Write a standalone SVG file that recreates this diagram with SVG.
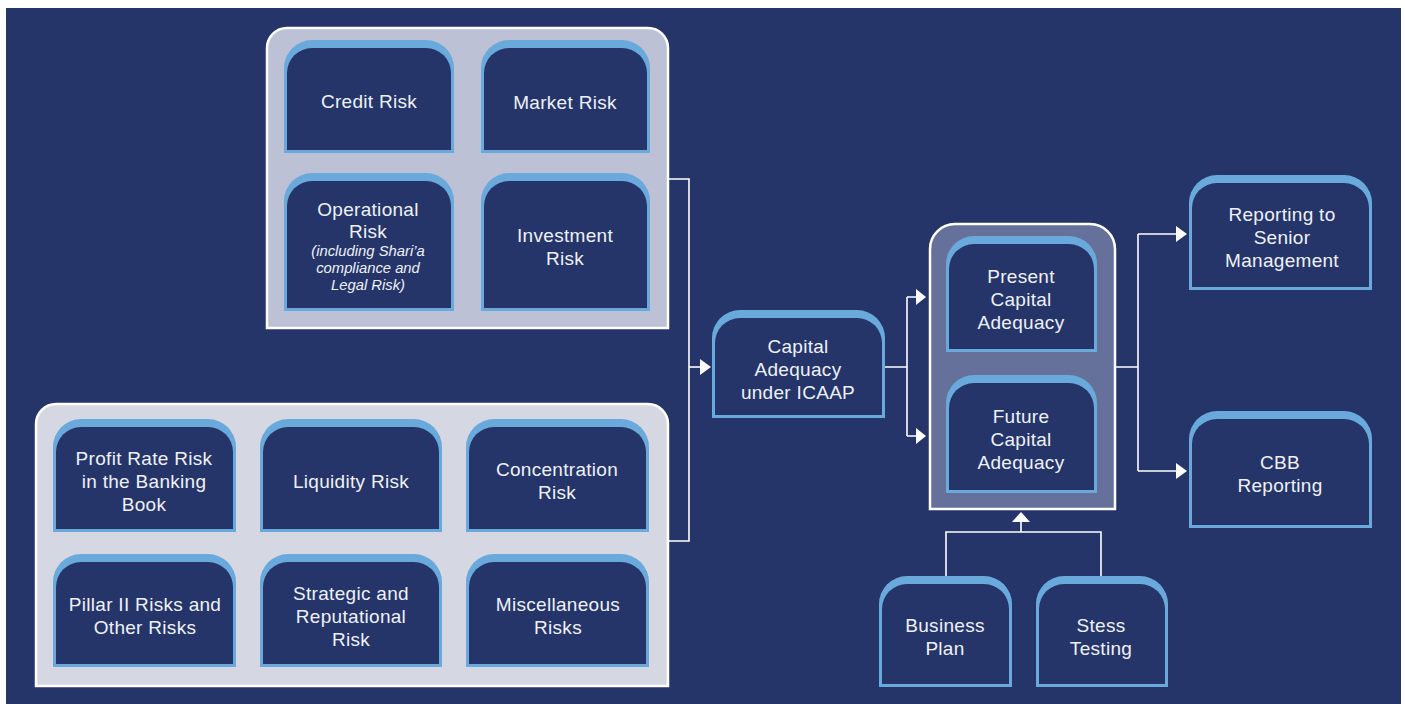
<svg xmlns="http://www.w3.org/2000/svg" width="1405" height="704" viewBox="0 0 1405 704">
<style>
.bg{fill:#253569}
.po{fill:#bcc1d5;stroke:#ffffff;stroke-width:2.5}
.pb{fill:#d5d8e2;stroke:#ffffff;stroke-width:2.5}
.pm{fill:#65719a;stroke:#ffffff;stroke-width:2.5}
.ob{fill:#6aa9dc}
.ib{fill:#253569}
.t{font-family:"Liberation Sans",Arial,Helvetica,sans-serif;font-size:19px;fill:#eef1f7;text-anchor:middle;letter-spacing:0.3px}
.ti{font-family:"Liberation Sans",Arial,Helvetica,sans-serif;font-size:14.8px;font-style:italic;fill:#eef1f7;text-anchor:middle}
.c{fill:none;stroke:#ffffff;stroke-width:1.6}
.ah{fill:#ffffff}
</style>
<rect class="bg" x="6" y="8" width="1395" height="696"/>
<g id="panel-top"><path class="po" d="M267 328 V48 A20 20 0 0 1 287 28 H648 A20 20 0 0 1 668 48 V328 Z"/></g>
<g id="panel-bottom"><path class="pb" d="M36 686 V424 A20 20 0 0 1 56 404 H648 A20 20 0 0 1 668 424 V686 Z"/></g>
<g id="panel-middle"><path class="pm" d="M930 509 V249 A25 25 0 0 1 955 224 H1090 A25 25 0 0 1 1115 249 V509 Z"/></g>
<g id="connectors">
<path class="c" d="M668 179 H689 V541 H668"/>
<path class="c" d="M689 367 H701"/>
<polygon class="ah" points="700,359 711,367 700,375"/>
<path class="c" d="M885 367 H907 M907 297 V436 M907 297 H917 M907 436 H917"/>
<polygon class="ah" points="916,289 926,297 916,305"/>
<polygon class="ah" points="916,428 926,436 916,444"/>
<path class="c" d="M1115 367 H1138 M1138 234 V471 M1138 234 H1177 M1138 471 H1177"/>
<polygon class="ah" points="1176,226 1187,234 1176,242"/>
<polygon class="ah" points="1176,463 1187,471 1176,479"/>
<path class="c" d="M946 576 V532 H1101 V576 M1021 532 V521"/>
<polygon class="ah" points="1012,522 1021,512 1030,522"/>
</g>
<g id="credit-risk"><path class="ob" d="M284 153 V68 A28 28 0 0 1 312 40 H426 A28 28 0 0 1 454 68 V153 Z"/><path class="ib" d="M287 150 V73 A25 25 0 0 1 312 48 H426 A25 25 0 0 1 451 73 V150 Z"/><text class="t" x="369" y="108">Credit Risk</text></g>
<g id="market-risk"><path class="ob" d="M481 153 V68 A28 28 0 0 1 509 40 H622 A28 28 0 0 1 650 68 V153 Z"/><path class="ib" d="M484 150 V73 A25 25 0 0 1 509 48 H622 A25 25 0 0 1 647 73 V150 Z"/><text class="t" x="565" y="109">Market Risk</text></g>
<g id="operational-risk"><path class="ob" d="M284 311 V201 A28 28 0 0 1 312 173 H426 A28 28 0 0 1 454 201 V311 Z"/><path class="ib" d="M287 308 V206 A25 25 0 0 1 312 181 H426 A25 25 0 0 1 451 206 V308 Z"/><text class="t" x="368" y="216">Operational</text><text class="t" x="368" y="238">Risk</text><text class="ti" x="368" y="256">(including Shari’a</text><text class="ti" x="368" y="273">compliance and</text><text class="ti" x="368" y="290">Legal Risk)</text></g>
<g id="investment-risk"><path class="ob" d="M481 311 V201 A28 28 0 0 1 509 173 H622 A28 28 0 0 1 650 201 V311 Z"/><path class="ib" d="M484 308 V206 A25 25 0 0 1 509 181 H622 A25 25 0 0 1 647 206 V308 Z"/><text class="t" x="565" y="242">Investment</text><text class="t" x="565" y="265">Risk</text></g>
<g id="profit-rate-risk"><path class="ob" d="M53 532 V447 A28 28 0 0 1 81 419 H208 A28 28 0 0 1 236 447 V532 Z"/><path class="ib" d="M56 529 V452 A25 25 0 0 1 81 427 H208 A25 25 0 0 1 233 452 V529 Z"/><text class="t" x="144" y="465">Profit Rate Risk</text><text class="t" x="144" y="488">in the Banking</text><text class="t" x="144" y="511">Book</text></g>
<g id="liquidity-risk"><path class="ob" d="M260 532 V447 A28 28 0 0 1 288 419 H414 A28 28 0 0 1 442 447 V532 Z"/><path class="ib" d="M263 529 V452 A25 25 0 0 1 288 427 H414 A25 25 0 0 1 439 452 V529 Z"/><text class="t" x="351" y="488">Liquidity Risk</text></g>
<g id="concentration-risk"><path class="ob" d="M466 532 V447 A28 28 0 0 1 494 419 H621 A28 28 0 0 1 649 447 V532 Z"/><path class="ib" d="M469 529 V452 A25 25 0 0 1 494 427 H621 A25 25 0 0 1 646 452 V529 Z"/><text class="t" x="557" y="476">Concentration</text><text class="t" x="557" y="499">Risk</text></g>
<g id="pillar-ii-risks"><path class="ob" d="M53 667 V582 A28 28 0 0 1 81 554 H208 A28 28 0 0 1 236 582 V667 Z"/><path class="ib" d="M56 664 V587 A25 25 0 0 1 81 562 H208 A25 25 0 0 1 233 587 V664 Z"/><text class="t" x="145" y="611">Pillar II Risks and</text><text class="t" x="145" y="634">Other Risks</text></g>
<g id="strategic-reputational-risk"><path class="ob" d="M260 667 V582 A28 28 0 0 1 288 554 H414 A28 28 0 0 1 442 582 V667 Z"/><path class="ib" d="M263 664 V587 A25 25 0 0 1 288 562 H414 A25 25 0 0 1 439 587 V664 Z"/><text class="t" x="351" y="600">Strategic and</text><text class="t" x="351" y="623">Reputational</text><text class="t" x="351" y="646">Risk</text></g>
<g id="miscellaneous-risks"><path class="ob" d="M466 667 V582 A28 28 0 0 1 494 554 H621 A28 28 0 0 1 649 582 V667 Z"/><path class="ib" d="M469 664 V587 A25 25 0 0 1 494 562 H621 A25 25 0 0 1 646 587 V664 Z"/><text class="t" x="558" y="611">Miscellaneous</text><text class="t" x="558" y="634">Risks</text></g>
<g id="capital-adequacy-icaap"><path class="ob" d="M712 418 V338 A28 28 0 0 1 740 310 H857 A28 28 0 0 1 885 338 V418 Z"/><path class="ib" d="M715 415 V343 A25 25 0 0 1 740 318 H857 A25 25 0 0 1 882 343 V415 Z"/><text class="t" x="798" y="353">Capital</text><text class="t" x="798" y="376">Adequacy</text><text class="t" x="798" y="399">under ICAAP</text></g>
<g id="present-capital-adequacy"><path class="ob" d="M946 352 V264 A28 28 0 0 1 974 236 H1069 A28 28 0 0 1 1097 264 V352 Z"/><path class="ib" d="M949 349 V269 A25 25 0 0 1 974 244 H1069 A25 25 0 0 1 1094 269 V349 Z"/><text class="t" x="1021" y="283">Present</text><text class="t" x="1021" y="306">Capital</text><text class="t" x="1021" y="329">Adequacy</text></g>
<g id="future-capital-adequacy"><path class="ob" d="M946 493 V403 A28 28 0 0 1 974 375 H1069 A28 28 0 0 1 1097 403 V493 Z"/><path class="ib" d="M949 490 V408 A25 25 0 0 1 974 383 H1069 A25 25 0 0 1 1094 408 V490 Z"/><text class="t" x="1021" y="423">Future</text><text class="t" x="1021" y="446">Capital</text><text class="t" x="1021" y="469">Adequacy</text></g>
<g id="reporting-senior-management"><path class="ob" d="M1189 290 V203 A28 28 0 0 1 1217 175 H1344 A28 28 0 0 1 1372 203 V290 Z"/><path class="ib" d="M1192 287 V208 A25 25 0 0 1 1217 183 H1344 A25 25 0 0 1 1369 208 V287 Z"/><text class="t" x="1282" y="221">Reporting to</text><text class="t" x="1282" y="244">Senior</text><text class="t" x="1282" y="267">Management</text></g>
<g id="cbb-reporting"><path class="ob" d="M1189 528 V439 A28 28 0 0 1 1217 411 H1344 A28 28 0 0 1 1372 439 V528 Z"/><path class="ib" d="M1192 525 V444 A25 25 0 0 1 1217 419 H1344 A25 25 0 0 1 1369 444 V525 Z"/><text class="t" x="1280" y="469">CBB</text><text class="t" x="1280" y="492">Reporting</text></g>
<g id="business-plan"><path class="ob" d="M879 687 V604 A28 28 0 0 1 907 576 H984 A28 28 0 0 1 1012 604 V687 Z"/><path class="ib" d="M882 684 V609 A25 25 0 0 1 907 584 H984 A25 25 0 0 1 1009 609 V684 Z"/><text class="t" x="945" y="632">Business</text><text class="t" x="945" y="655">Plan</text></g>
<g id="stess-testing"><path class="ob" d="M1036 687 V604 A28 28 0 0 1 1064 576 H1140 A28 28 0 0 1 1168 604 V687 Z"/><path class="ib" d="M1039 684 V609 A25 25 0 0 1 1064 584 H1140 A25 25 0 0 1 1165 609 V684 Z"/><text class="t" x="1101" y="632">Stess</text><text class="t" x="1101" y="655">Testing</text></g>
</svg>
